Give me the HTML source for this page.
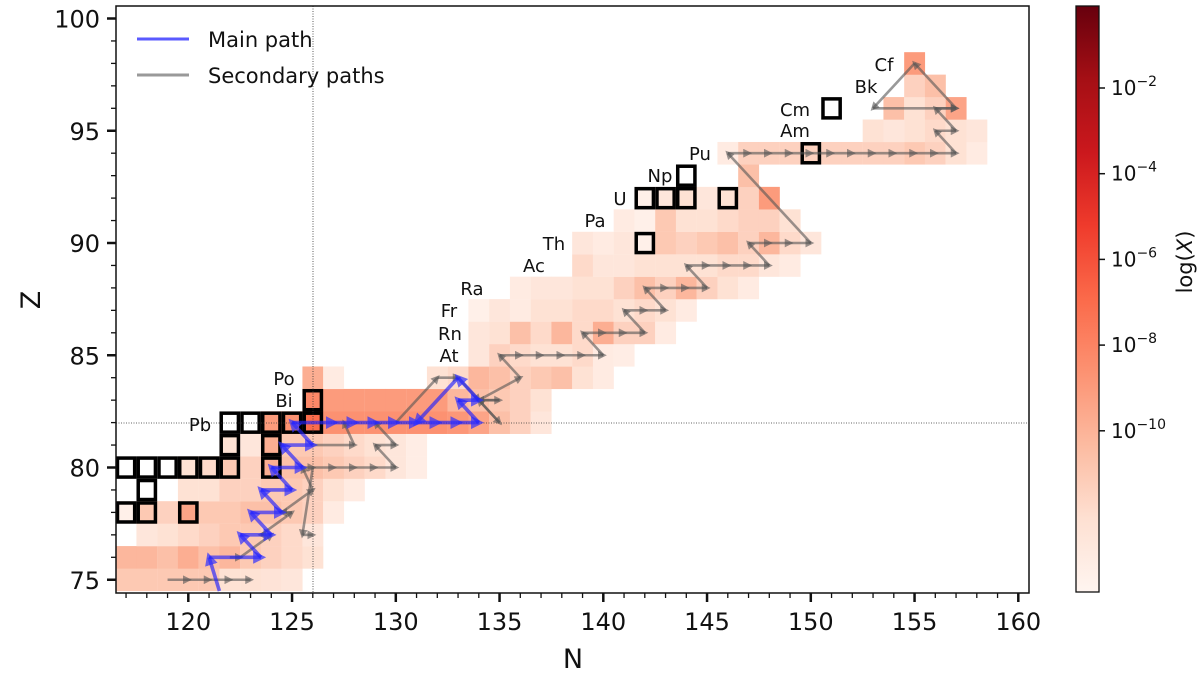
<!DOCTYPE html>
<html><head><meta charset="utf-8"><style>
body{margin:0;background:#fff}
svg{display:block;font-family:"DejaVu Sans","Liberation Sans",sans-serif}
</style></head><body>
<svg id="chart" width="1200" height="675" viewBox="0 0 1200 675">
<defs>
<clipPath id="pc"><rect x="116" y="6" width="913" height="587"/></clipPath>
<linearGradient id="cbg" x1="0" y1="1" x2="0" y2="0">
<stop offset="0" stop-color="#fff5f0"/><stop offset="0.125" stop-color="#fee0d2"/>
<stop offset="0.25" stop-color="#fcbba1"/><stop offset="0.375" stop-color="#fc9272"/>
<stop offset="0.5" stop-color="#fb6a4a"/><stop offset="0.625" stop-color="#ef3b2c"/>
<stop offset="0.75" stop-color="#cb181d"/><stop offset="0.875" stop-color="#a50f15"/>
<stop offset="1" stop-color="#67000d"/></linearGradient>
<marker id="ab" viewBox="0 0 10 10" refX="6" refY="5" markerWidth="3.6" markerHeight="3.6" orient="auto"><path d="M0,0L10,5L0,10z" fill="#3030ff" fill-opacity="0.7"/></marker>
<marker id="ag" viewBox="0 0 10 10" refX="6" refY="5" markerWidth="3.4" markerHeight="3.4" orient="auto"><path d="M0,0L10,5L0,10z" fill="#555" fill-opacity="0.6"/></marker>
</defs>
<g id="cells" clip-path="url(#pc)"></g>
<g id="boxes" clip-path="url(#pc)"></g>
<line x1="313" y1="6" x2="313" y2="593" stroke="#333" stroke-width="0.8" stroke-dasharray="1,1.5"/>
<line x1="116" y1="423" x2="1029" y2="423" stroke="#333" stroke-width="0.8" stroke-dasharray="1,1.5"/>
<g id="paths" clip-path="url(#pc)"></g>
<g id="elems" font-size="18" fill="#111"></g>
<rect x="116" y="6" width="913" height="587" fill="none" stroke="#111" stroke-width="1.5"/>
<g id="axes" font-size="24" fill="#111"></g>
<text x="573" y="668" font-size="27" text-anchor="middle" fill="#111">N</text>
<text transform="translate(40,300) rotate(-90)" font-size="27" text-anchor="middle" fill="#111">Z</text>
<g>
<line x1="137" y1="39" x2="189" y2="39" stroke="#5a5aff" stroke-width="3"/>
<text x="208" y="47" font-size="21" fill="#111">Main path</text>
<line x1="137" y1="75" x2="189" y2="75" stroke="#999" stroke-width="3"/>
<text x="208" y="83" font-size="21" fill="#111">Secondary paths</text>
</g>
<rect x="1076" y="6" width="23" height="586" fill="url(#cbg)" stroke="#111" stroke-width="1.3"/>
<g id="cbticks" font-size="20" fill="#111"></g>
<text transform="translate(1192,262) rotate(-90)" font-size="21" text-anchor="middle" fill="#111">log(<tspan font-style="italic">X</tspan>)</text>
</svg>
<script>
// rows: Z, first N, intensity values (0..1)
const rowZ = [75,76,77,78,79,80,81,82,83,84,85,86,87,88,89,90,91,92,93,94,95,96,97,98];
const rowStartN = [117,117,118,117,120,120,122,124,126,126,134,134,134,136,139,139,141,142,147,146,153,154,155,155];
const rowValues = [
 [0.35,0.35,0.35,0.35,0.35,0.2,0.2,0.18,0.15],
 [0.45,0.45,0.4,0.5,0.4,0.45,0.35,0.3,0.25,0.2],
 [0.15,0.2,0.25,0.3,0.35,0.35,0.3,0.25,0.15],
 [0.05,0.35,0.3,0.55,0.35,0.35,0.4,0.4,0.35,0.3,0.1],
 [0.2,0.2,0.3,0.3,0.35,0.35,0.3,0.2,0.1],
 [0.2,0.25,0.35,0.3,0.5,0.4,0.4,0.35,0.3,0.25,0.15,0.08],
 [0.2,0.15,0.5,0.35,0.35,0.3,0.25,0.2,0.15,0.08],
 [0.6,0.65,0.85,0.65,0.65,0.65,0.65,0.65,0.65,0.62,0.55,0.4,0.3,0.15],
 [0.7,0.6,0.6,0.6,0.6,0.6,0.6,0.45,0.4,0.35,0.3,0.2],
 [0.5,0.1,0,0,0,0,0.2,0.25,0.45,0.4,0.3,0.35,0.4,0.2,0.1],
 [0.15,0.3,0.25,0.2,0.2,0.25,0.1,0.08],
 [0.15,0.2,0.4,0.25,0.45,0.25,0.5,0.3,0.3,0.1],
 [0.05,0.15,0.1,0.2,0.2,0.25,0.25,0.2,0.25,0.2,0.1],
 [0.1,0.15,0.15,0.2,0.2,0.3,0.4,0.3,0.45,0.3,0.2,0.1],
 [0.25,0.15,0.15,0.2,0.2,0.2,0.2,0.25,0.25,0.15,0.1],
 [0.15,0.1,0.15,0.05,0.35,0.3,0.35,0.4,0.3,0.45,0.25,0.15],
 [0.1,0.05,0.35,0.2,0.2,0.25,0.3,0.3,0.2],
 [0.05,0.15,0.2,0.15,0.2,0.3,0.6],
 [0.4],
 [0.1,0.3,0.3,0.3,0.3,0.3,0.3,0.3,0.3,0.35,0.3,0.2,0.1],
 [0.2,0.15,0.2,0.25,0.2,0.15],
 [0.4,0.2,0.3,0.55],
 [0.3,0.4],
 [0.6]
];
// stable isotope boxes
const boxN = [117,118,120,118,116,117,118,119,120,121,122,124,122,124,122,123,124,125,126,126,142,142,143,144,146,144,150,151];
const boxZ = [78,78,78,79,80,80,80,80,80,80,80,80,81,81,82,82,82,82,82,83,90,92,92,92,92,93,94,96];
// paths (N,Z)
const mainN = [121.5,121,123.5,122.5,124,123,124.5,123.5,125,124,125.5,124.5,126,125,127,128,129,130,131,132,133,134,133,134,133,131];
const mainZ = [74.5,76,76,77,77,78,78,79,79,80,80,81,81,82,82,82,82,82,82,82,82,82,83,83,84,82];
const secN = [
 [119,120,121,122,123],
 [122,122.5,124,123.5,125,124.5,126,125.5,126,125.5,126],
 [126,128,127.5],
 [126,127,128,129,130,129,130,129],
 [130,132,133,134,135,134,135,134,136,135,136,137,138,139,140,139,140,141,142,141,142,143,142,143,144,145,144,145,146,147,148,147,148,149,150,146,147,148,149,150,151,152,153,154,155,156,157,156,157,156,157,155,153,157]
];
const secZ = [
 [75,75,75,75,75],
 [76,76,77,77,78,78,79,80,80,77,77],
 [81,81,82],
 [80,80,80,80,80,81,81,82],
 [82,84,84,83,83,83,82,83,84,85,85,85,85,85,85,86,86,86,86,87,87,87,88,88,88,88,89,89,89,89,89,90,90,90,90,94,94,94,94,94,94,94,94,94,94,94,94,95,95,96,96,98,96,96]
];
const yTicks = [75,80,85,90,95,100];
const xTicks = [120,125,130,135,140,145,150,155,160];
const cbExp = [-2,-4,-6,-8,-10];
const elemNames = ["Pb","Bi","Po","At","Rn","Fr","Ra","Ac","Th","Pa","U","Np","Pu","Am","Cm","Bk","Cf"];
const elemX = [200,284,284,449,450,449,472,534,554,595,620,660,700,795,795,866,884];
const elemY = [425,401,379,356,334,311,289,266,244,221,199,176,154,131,110,87,65];

const NS="http://www.w3.org/2000/svg";
const xs = n => 188.3 + (n-120)*20.75;
const ys = z => 18.5 + (100-z)*22.45;
const cbY = e => 88 + (-2-e)*42.85;
function mk(t,a,p){const e=document.createElementNS(NS,t);for(const k in a)e.setAttribute(k,a[k]);p.appendChild(e);return e;}
const stops=[[255,245,240],[254,224,210],[252,187,161],[252,146,114],[251,106,74],[239,59,44],[203,24,29],[165,15,21],[103,0,13]];
function cmap(t){t=Math.max(0,Math.min(1,t))*8;const i=Math.min(7,Math.floor(t)),f=t-i;const a=stops[i],b=stops[i+1];
 return `rgb(${a.map((v,k)=>Math.round(v+(b[k]-v)*f)).join(",")})`;}
const gc=document.getElementById("cells");
rowZ.forEach((z,r)=>{rowValues[r].forEach((v,j)=>{if(v<=0)return;const n=rowStartN[r]+j;
 const c=mk("rect",{x:xs(n-0.5),y:ys(z+0.5),width:20.9,height:22.6,fill:cmap(v*0.58)},gc);
 
 });});
const gb=document.getElementById("boxes");
boxN.forEach((n,i)=>{const b=mk("rect",{x:xs(n-0.5)+1.8,y:ys(boxZ[i]+0.5)+1.8,width:17.2,height:19,fill:"none",stroke:"#000","stroke-width":3.5},gb);
 
 });
const gp=document.getElementById("paths");
function seg(Ns,Zs,col,op,w,mkid,name){
 for(let i=0;i<Ns.length-1;i++){const l=mk("line",{x1:xs(Ns[i]),y1:ys(Zs[i]),x2:xs(Ns[i+1]),y2:ys(Zs[i+1]),stroke:col,"stroke-opacity":op,"stroke-width":w,"marker-end":`url(#${mkid})`},gp);
  
  }}
secN.forEach((a,i)=>seg(a,secZ[i],"#555",0.6,2.6,"ag","secondary-path-segment"));
seg(mainN,mainZ,"#2020ff",0.65,3.6,"ab","main-path-segment");
const ge=document.getElementById("elems");
elemNames.forEach((s,i)=>{const t=mk("text",{x:elemX[i],y:elemY[i]+6,"text-anchor":"middle"},ge);t.textContent=s;
 
 });
const ga=document.getElementById("axes");
for(let z=75;z<=100;z++){const maj=yTicks.includes(z);mk("line",{x1:116-(maj?9:5),x2:116,y1:ys(z),y2:ys(z),stroke:"#111","stroke-width":maj?2.5:1.3},ga);}
for(let n=117;n<=160;n++){const maj=xTicks.includes(n);mk("line",{x1:xs(n),x2:xs(n),y1:593,y2:593+(maj?9:5),stroke:"#111","stroke-width":maj?2.5:1.3},ga);}
yTicks.forEach(z=>{const t=mk("text",{x:100,y:ys(z)+9,"text-anchor":"end"},ga);t.textContent=z;
 
 });
xTicks.forEach(n=>{const t=mk("text",{x:xs(n),y:630,"text-anchor":"middle"},ga);t.textContent=n;
 
 });
const gcb=document.getElementById("cbticks");
cbExp.forEach(e=>{const y=cbY(e);mk("line",{x1:1099,x2:1105,y1:y,y2:y,stroke:"#111","stroke-width":1.5},gcb);
 const t=mk("text",{x:1111,y:y+7},gcb);t.textContent="10";
 const s=mk("tspan",{dy:-9,"font-size":14},t);s.textContent="−"+(-e);
 
 });
</script>
</body></html>
